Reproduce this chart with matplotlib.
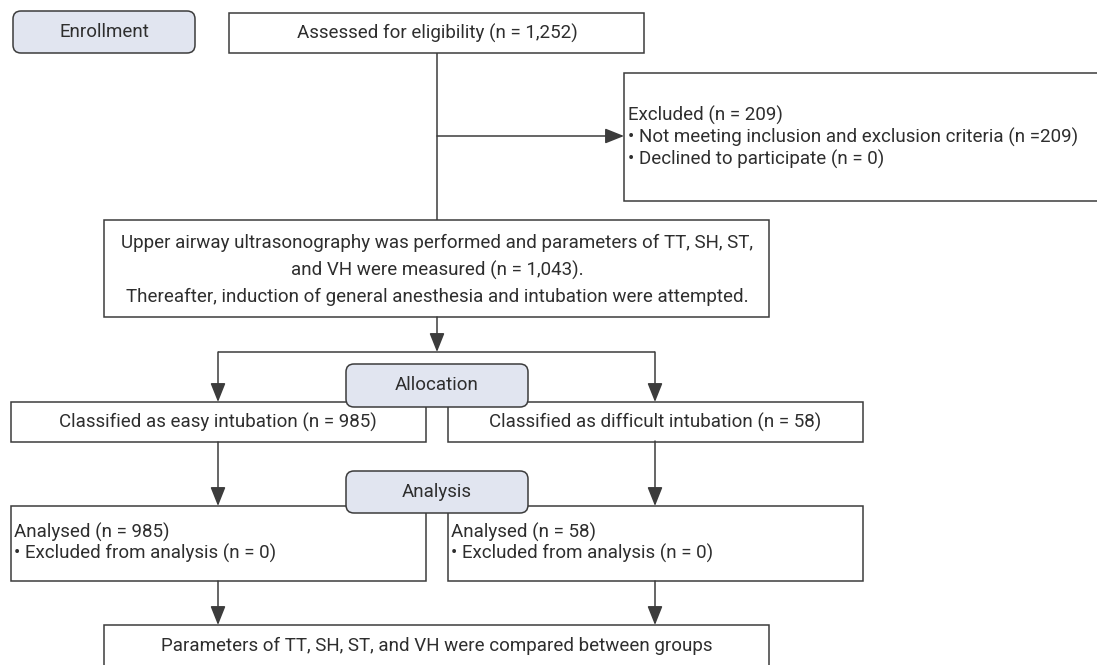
import matplotlib
matplotlib.use("Agg")
import matplotlib.pyplot as plt
from matplotlib.patches import Rectangle, FancyBboxPatch

# ---- content ----
n_assessed = "1,252"
n_excluded = 209
n_declined = 0
n_enrolled = "1,043"
n_easy = 985
n_difficult = 58
n_excl_easy = 0
n_excl_diff = 0

stage_labels = ["Enrollment", "Allocation", "Analysis"]
assessed_text = [f"Assessed for eligibility (n = {n_assessed})"]
excluded_text = [f"Excluded (n = {n_excluded})",
                 f"\u2022 Not meeting inclusion and exclusion criteria (n ={n_excluded})",
                 f"\u2022 Declined to participate (n = {n_declined})"]
us_text = ["Upper airway ultrasonography was performed and parameters of TT, SH, ST,",
           f"and VH were measured (n = {n_enrolled}).",
           "Thereafter, induction of general anesthesia and intubation were attempted."]
easy_text = [f"Classified as easy intubation (n = {n_easy})"]
diff_text = [f"Classified as difficult intubation (n = {n_difficult})"]
an_easy_text = [f"Analysed (n = {n_easy})", f"\u2022 Excluded from analysis (n = {n_excl_easy})"]
an_diff_text = [f"Analysed (n = {n_difficult})", f"\u2022 Excluded from analysis (n = {n_excl_diff})"]
final_text = ["Parameters of TT, SH, ST, and VH were compared between groups"]

# ---- style ----
LC = "#3c3c3c"
TC = "#2e2e2e"
FILL = "#e1e5f0"
FS = 13.5
FONT = "Roboto"
LW = 1.1

fig = plt.figure(figsize=(10.97, 6.65), dpi=100)
ax = fig.add_axes([0, 0, 1, 1])
ax.set_xlim(0, 1097)
ax.set_ylim(665, 0)
ax.axis("off")


def box(x0, y0, x1, y1, rounded=False, z=2):
    if rounded:
        p = FancyBboxPatch((x0, y0), x1 - x0, y1 - y0,
                           boxstyle="round,pad=0,rounding_size=8",
                           fc=FILL, ec=LC, lw=LW, zorder=z)
    else:
        p = Rectangle((x0, y0), x1 - x0, y1 - y0, fc="white", ec=LC, lw=LW, zorder=z)
    ax.add_patch(p)


def lines_text(lines, x, yc, spacing, ha="center", z=5):
    n = len(lines)
    for i, t in enumerate(lines):
        y = yc + (i - (n - 1) / 2) * spacing
        ax.text(x, y, t, ha=ha, va="center", fontsize=FS, family=FONT,
                color=TC, zorder=z)


def seg(xs, ys):
    ax.plot(xs, ys, color=LC, lw=LW, zorder=1, solid_capstyle="butt")


def arrow(x0, y0, x1, y1):
    ax.annotate("", xy=(x1, y1), xytext=(x0, y0),
                arrowprops=dict(arrowstyle="-|>,head_length=0.8,head_width=0.32",
                                color=LC, lw=LW, shrinkA=0, shrinkB=0,
                                mutation_scale=14.5), zorder=3)


# connectors
seg([437, 437], [53, 220])
arrow(437, 136, 624, 136)
arrow(437, 317, 437, 352)
seg([218, 655], [352, 352])
arrow(218, 352, 218, 402)
arrow(655, 352, 655, 402)
arrow(218, 442, 218, 506)
arrow(655, 441, 655, 506)
arrow(218, 581, 218, 625)
arrow(655, 581, 655, 625)

# boxes
box(13, 11, 195, 53, rounded=True)
lines_text([stage_labels[0]], 104, 32, 0)

box(229, 13, 644, 53)
lines_text(assessed_text, 437, 33, 0)

box(624, 73, 1110, 201)
lines_text(excluded_text, 628, 137, 22, ha="left")

box(104, 220, 769, 317)
lines_text(us_text, 437, 270, 27)

box(11, 402, 426, 442)
lines_text(easy_text, 218, 422, 0)
box(448, 402, 863, 442)
lines_text(diff_text, 655, 422, 0)
box(346, 364, 528, 407, rounded=True, z=4)
lines_text([stage_labels[1]], 437, 385, 0)

box(11, 506, 426, 581)
lines_text(an_easy_text, 14, 543, 21, ha="left")
box(448, 506, 863, 581)
lines_text(an_diff_text, 451, 543, 21, ha="left")
box(346, 471, 528, 513, rounded=True, z=4)
lines_text([stage_labels[2]], 437, 492, 0)

box(104, 625, 769, 700)
lines_text(final_text, 437, 646, 0)

fig.savefig("out.png", dpi=100)
